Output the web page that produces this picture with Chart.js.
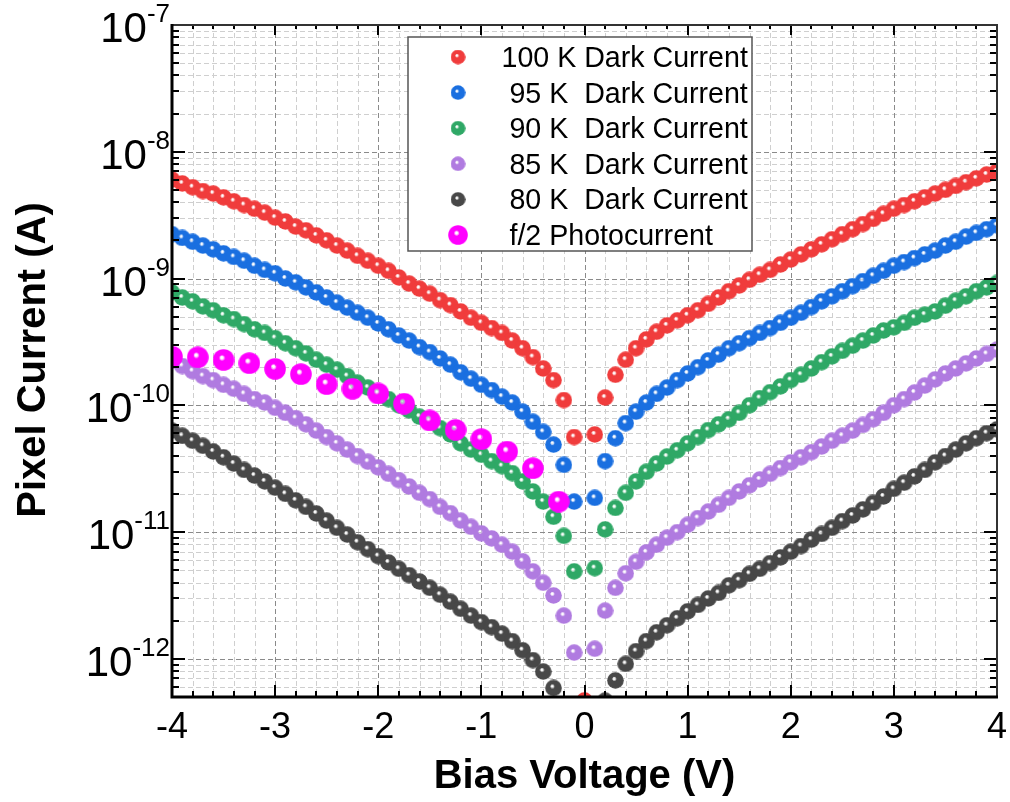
<!DOCTYPE html>
<html>
<head>
<meta charset="utf-8">
<script src="https://cdn.jsdelivr.net/npm/chart.js@4.4.1/dist/chart.umd.min.js"></script>
<style>
  html, body { margin: 0; background: #fff; }
  #grafico { display: block; }
</style>
</head>
<body>
<canvas id="grafico" width="1010" height="802"></canvas>
<script>
// bias voltage of the dark current sweeps (V)
const biasV = [-4.0, -3.9, -3.8, -3.7, -3.6, -3.5, -3.4, -3.3, -3.2, -3.1,
  -3.0, -2.9, -2.8, -2.7, -2.6, -2.5, -2.4, -2.3, -2.2, -2.1,
  -2.0, -1.9, -1.8, -1.7, -1.6, -1.5, -1.4, -1.3, -1.2, -1.1,
  -1.0, -0.9, -0.8, -0.7, -0.6, -0.5, -0.4, -0.3, -0.2, -0.1,
  0.0, 0.1, 0.2, 0.3, 0.4, 0.5, 0.6, 0.7, 0.8, 0.9,
  1.0, 1.1, 1.2, 1.3, 1.4, 1.5, 1.6, 1.7, 1.8, 1.9,
  2.0, 2.1, 2.2, 2.3, 2.4, 2.5, 2.6, 2.7, 2.8, 2.9,
  3.0, 3.1, 3.2, 3.3, 3.4, 3.5, 3.6, 3.7, 3.8, 3.9, 4.0];

// dark current (A)
const dark100K = [6.03e-9, 5.62e-9, 5.25e-9, 4.90e-9, 4.68e-9, 4.37e-9, 4.07e-9, 3.80e-9, 3.55e-9, 3.31e-9,
  3.02e-9, 2.82e-9, 2.57e-9, 2.40e-9, 2.19e-9, 2.00e-9, 1.82e-9, 1.66e-9, 1.51e-9, 1.38e-9,
  1.26e-9, 1.15e-9, 1.02e-9, 9.12e-10, 8.32e-10, 7.59e-10, 6.76e-10, 6.17e-10, 5.50e-10, 4.90e-10,
  4.47e-10, 4.07e-10, 3.72e-10, 3.24e-10, 2.82e-10, 2.40e-10, 1.95e-10, 1.58e-10, 1.10e-10, 5.62e-11,
  4.7e-13, 5.89e-11, 1.15e-10, 1.74e-10, 2.29e-10, 2.82e-10, 3.31e-10, 3.80e-10, 4.27e-10, 4.68e-10,
  5.13e-10, 5.62e-10, 6.31e-10, 7.08e-10, 7.94e-10, 8.81e-10, 9.77e-10, 1.07e-9, 1.17e-9, 1.29e-9,
  1.41e-9, 1.55e-9, 1.70e-9, 1.86e-9, 2.04e-9, 2.24e-9, 2.45e-9, 2.69e-9, 2.95e-9, 3.24e-9,
  3.55e-9, 3.80e-9, 4.07e-9, 4.37e-9, 4.68e-9, 5.01e-9, 5.37e-9, 5.75e-9, 6.17e-9, 6.61e-9, 7.00e-9];

const dark95K = [2.24e-9, 2.09e-9, 1.95e-9, 1.82e-9, 1.70e-9, 1.58e-9, 1.48e-9, 1.38e-9, 1.26e-9, 1.17e-9,
  1.10e-9, 1.00e-9, 9.33e-10, 8.51e-10, 7.76e-10, 7.08e-10, 6.46e-10, 5.89e-10, 5.37e-10, 4.90e-10,
  4.42e-10, 3.98e-10, 3.55e-10, 3.24e-10, 2.88e-10, 2.63e-10, 2.34e-10, 2.09e-10, 1.82e-10, 1.62e-10,
  1.45e-10, 1.32e-10, 1.17e-10, 1.05e-10, 8.91e-11, 7.41e-11, 6.17e-11, 4.90e-11, 3.39e-11, 1.74e-11,
  null, 1.86e-11, 3.63e-11, 5.50e-11, 7.24e-11, 8.91e-11, 1.05e-10, 1.23e-10, 1.38e-10, 1.58e-10,
  1.78e-10, 2.00e-10, 2.26e-10, 2.51e-10, 2.82e-10, 3.09e-10, 3.39e-10, 3.72e-10, 4.07e-10, 4.47e-10,
  4.90e-10, 5.37e-10, 5.96e-10, 6.61e-10, 7.24e-10, 7.94e-10, 8.71e-10, 9.55e-10, 1.05e-9, 1.15e-9,
  1.26e-9, 1.35e-9, 1.45e-9, 1.55e-9, 1.66e-9, 1.82e-9, 1.95e-9, 2.14e-9, 2.29e-9, 2.45e-9, 2.63e-9];

const dark90K = [7.76e-10, 7.08e-10, 6.61e-10, 6.03e-10, 5.62e-10, 5.13e-10, 4.79e-10, 4.37e-10, 3.98e-10, 3.72e-10,
  3.39e-10, 3.09e-10, 2.82e-10, 2.57e-10, 2.29e-10, 2.09e-10, 1.91e-10, 1.70e-10, 1.51e-10, 1.38e-10,
  1.23e-10, 1.12e-10, 1.00e-10, 9.12e-11, 8.13e-11, 7.41e-11, 6.61e-11, 5.89e-11, 5.01e-11, 4.47e-11,
  4.07e-11, 3.63e-11, 3.31e-11, 2.92e-11, 2.51e-11, 2.09e-11, 1.74e-11, 1.32e-11, 9.33e-12, 4.90e-12,
  null, 5.19e-12, 1.05e-11, 1.55e-11, 2.04e-11, 2.51e-11, 2.99e-11, 3.47e-11, 3.94e-11, 4.42e-11,
  5.01e-11, 5.62e-11, 6.38e-11, 7.08e-11, 7.76e-11, 8.71e-11, 1.00e-10, 1.14e-10, 1.27e-10, 1.41e-10,
  1.58e-10, 1.74e-10, 1.95e-10, 2.19e-10, 2.43e-10, 2.69e-10, 2.95e-10, 3.24e-10, 3.55e-10, 3.89e-10,
  4.12e-10, 4.47e-10, 4.90e-10, 5.19e-10, 5.50e-10, 6.10e-10, 6.68e-10, 7.24e-10, 7.94e-10, 8.51e-10, 9.23e-10];

const dark85K = [2.24e-10, 2.04e-10, 1.86e-10, 1.70e-10, 1.58e-10, 1.45e-10, 1.35e-10, 1.23e-10, 1.12e-10, 1.05e-10,
  9.55e-11, 8.71e-11, 7.94e-11, 7.08e-11, 6.31e-11, 5.62e-11, 5.01e-11, 4.47e-11, 3.98e-11, 3.59e-11,
  3.24e-11, 2.88e-11, 2.57e-11, 2.29e-11, 2.04e-11, 1.82e-11, 1.58e-11, 1.41e-11, 1.23e-11, 1.10e-11,
  9.77e-12, 8.91e-12, 7.94e-12, 7.00e-12, 5.89e-12, 4.90e-12, 3.98e-12, 3.16e-12, 2.19e-12, 1.12e-12,
  null, 1.20e-12, 2.40e-12, 3.63e-12, 4.73e-12, 5.82e-12, 6.92e-12, 7.94e-12, 9.02e-12, 1.00e-11,
  1.14e-11, 1.29e-11, 1.45e-11, 1.64e-11, 1.86e-11, 2.09e-11, 2.34e-11, 2.60e-11, 2.88e-11, 3.20e-11,
  3.55e-11, 3.89e-11, 4.27e-11, 4.73e-11, 5.25e-11, 5.75e-11, 6.31e-11, 7.00e-11, 7.76e-11, 8.71e-11,
  1.00e-10, 1.12e-10, 1.26e-10, 1.43e-10, 1.60e-10, 1.78e-10, 1.95e-10, 2.14e-10, 2.34e-10, 2.54e-10, 2.75e-10];

const dark80K = [6.31e-11, 5.75e-11, 5.25e-11, 4.79e-11, 4.32e-11, 3.89e-11, 3.47e-11, 3.09e-11, 2.79e-11, 2.51e-11,
  2.24e-11, 2.00e-11, 1.78e-11, 1.58e-11, 1.40e-11, 1.23e-11, 1.08e-11, 9.55e-12, 8.32e-12, 7.33e-12,
  6.46e-12, 5.75e-12, 5.13e-12, 4.57e-12, 4.07e-12, 3.63e-12, 3.20e-12, 2.82e-12, 2.48e-12, 2.19e-12,
  1.95e-12, 1.78e-12, 1.58e-12, 1.38e-12, 1.17e-12, 9.77e-13, 7.94e-13, 5.89e-13, null, null,
  null, null, 4.68e-13, 6.76e-13, 9.12e-13, 1.15e-12, 1.38e-12, 1.62e-12, 1.84e-12, 2.09e-12,
  2.37e-12, 2.66e-12, 2.99e-12, 3.31e-12, 3.80e-12, 4.17e-12, 4.68e-12, 5.13e-12, 5.69e-12, 6.31e-12,
  7.00e-12, 7.76e-12, 8.71e-12, 9.66e-12, 1.08e-11, 1.22e-11, 1.35e-11, 1.51e-11, 1.70e-11, 1.91e-11,
  2.19e-11, 2.45e-11, 2.75e-11, 3.09e-11, 3.55e-11, 3.98e-11, 4.47e-11, 5.01e-11, 5.50e-11, 6.03e-11, 6.46e-11];

// f/2 photocurrent (A)
const photoV = [-4.0, -3.75, -3.5, -3.25, -3.0, -2.75, -2.5, -2.25, -2.0, -1.75, -1.5, -1.25, -1.0, -0.75, -0.5, -0.25];
const photoF2 = [2.42e-10, 2.39e-10, 2.28e-10, 2.15e-10, 1.94e-10, 1.76e-10, 1.47e-10, 1.35e-10,
  1.24e-10, 1.03e-10, 7.59e-11, 6.40e-11, 5.41e-11, 4.32e-11, 3.19e-11, 1.74e-11];

const xTicks = [-4, -3, -2, -1, 0, 1, 2, 3, 4];
const yDecades = [-12, -11, -10, -9, -8, -7];

const Y_MIN = 5e-13, Y_MAX = 1e-7;

// shaded ball used as point marker
function esfera(color, d) {
  const c = document.createElement('canvas');
  c.width = d; c.height = d;
  const g = c.getContext('2d');
  const r = d / 2;
  const grad = g.createRadialGradient(r - r * 0.18, r - r * 0.24, 0, r, r, r);
  grad.addColorStop(0, 'rgba(255,255,255,0.9)');
  grad.addColorStop(0.1, 'rgba(255,255,255,0.55)');
  grad.addColorStop(0.28, color);
  grad.addColorStop(1, color);
  g.fillStyle = grad;
  g.beginPath();
  g.arc(r, r, r - 0.2, 0, Math.PI * 2);
  g.fill();
  return c;
}

function serie(etiqueta, xs, ys, color, d, orden) {
  return {
    label: etiqueta,
    data: xs.map((v, i) => ({ x: v, y: ys[i] })),
    pointStyle: esfera(color, d),
    pointRadius: d / 2,
    showLine: false,
    order: orden,
    clip: 0
  };
}

const datasets = [
  serie('100 K Dark Current', biasV, dark100K, '#f03c3c', 17, 1),
  serie(' 95 K  Dark Current', biasV, dark95K, '#1a6fe0', 17, 1),
  serie(' 90 K  Dark Current', biasV, dark90K, '#2fa866', 17, 1),
  serie(' 85 K  Dark Current', biasV, dark85K, '#b07be0', 17, 1),
  serie(' 80 K  Dark Current', biasV, dark80K, '#484848', 17, 1),
  serie(' f/2 Photocurrent', photoV, photoF2, '#ff00ff', 22, 0)
];

const marco = {
  id: 'marco',
  beforeDatasetsDraw(chart) {
    const { ctx, chartArea: a, scales: { x, y } } = chart;
    ctx.save();
    ctx.lineWidth = 1;
    ctx.setLineDash([5, 3]);
    // minor grid
    ctx.strokeStyle = '#cfcfcf';
    for (let i = -19; i <= 19; i++) {
      if (i % 5 === 0) continue;
      const px = Math.round(x.getPixelForValue(i / 5)) + 0.5;
      ctx.beginPath(); ctx.moveTo(px, a.top); ctx.lineTo(px, a.bottom); ctx.stroke();
    }
    for (let e = -13; e <= -8; e++) {
      for (let m = 2; m <= 9; m++) {
        const v = m * Math.pow(10, e);
        if (v <= Y_MIN || v >= Y_MAX) continue;
        const py = Math.round(y.getPixelForValue(v)) + 0.5;
        ctx.beginPath(); ctx.moveTo(a.left, py); ctx.lineTo(a.right, py); ctx.stroke();
      }
    }
    // major grid
    ctx.strokeStyle = '#8a8a8a';
    xTicks.forEach(t => {
      const px = Math.round(x.getPixelForValue(t)) + 0.5;
      ctx.beginPath(); ctx.moveTo(px, a.top); ctx.lineTo(px, a.bottom); ctx.stroke();
    });
    yDecades.forEach(e => {
      const py = Math.round(y.getPixelForValue(Math.pow(10, e))) + 0.5;
      ctx.beginPath(); ctx.moveTo(a.left, py); ctx.lineTo(a.right, py); ctx.stroke();
    });
    ctx.restore();
  },
  afterDatasetsDraw(chart) {
    const { ctx, chartArea: a, scales: { x, y } } = chart;
    ctx.save();
    ctx.setLineDash([]);
    ctx.strokeStyle = '#000';

    // ticks, pointing inwards on all four sides
    ctx.lineWidth = 2;
    for (let i = -20; i <= 20; i++) {
      const px = Math.round(x.getPixelForValue(i / 5));
      const largo = i % 5 === 0 ? 12 : 6;
      ctx.beginPath(); ctx.moveTo(px, a.bottom); ctx.lineTo(px, a.bottom - largo); ctx.stroke();
      ctx.beginPath(); ctx.moveTo(px, a.top); ctx.lineTo(px, a.top + largo - 2); ctx.stroke();
    }
    for (let e = -13; e <= -7; e++) {
      for (let m = 1; m <= 9; m++) {
        const v = m * Math.pow(10, e);
        if (v < Y_MIN || v > Y_MAX) continue;
        const py = Math.round(y.getPixelForValue(v));
        const largo = m === 1 ? 13 : 7;
        ctx.beginPath(); ctx.moveTo(a.left, py); ctx.lineTo(a.left + largo, py); ctx.stroke();
        ctx.beginPath(); ctx.moveTo(a.right, py); ctx.lineTo(a.right - largo, py); ctx.stroke();
      }
    }

    // frame
    ctx.lineWidth = 2;
    ctx.strokeStyle = '#333';
    ctx.beginPath(); ctx.moveTo(a.left, a.top); ctx.lineTo(a.right, a.top); ctx.lineTo(a.right, a.bottom); ctx.stroke();
    ctx.lineWidth = 3;
    ctx.strokeStyle = '#000';
    ctx.beginPath(); ctx.moveTo(a.left, a.top - 1); ctx.lineTo(a.left, a.bottom); ctx.lineTo(a.right + 1, a.bottom); ctx.stroke();

    // tick labels
    ctx.fillStyle = '#000';
    ctx.font = '36px "Liberation Sans", Arial, sans-serif';
    ctx.textAlign = 'center';
    ctx.textBaseline = 'alphabetic';
    xTicks.forEach(t => {
      ctx.fillText(String(t), x.getPixelForValue(t), a.bottom + 41);
    });
    ctx.textAlign = 'left';
    yDecades.forEach(e => {
      const py = y.getPixelForValue(Math.pow(10, e));
      const sup = String(e);
      ctx.font = '26px "Liberation Sans", Arial, sans-serif';
      const wSup = ctx.measureText(sup).width;
      ctx.font = '42px "Liberation Sans", Arial, sans-serif';
      const wBase = ctx.measureText('10').width;
      const right = a.left - 2;
      ctx.fillText('10', right - wSup - wBase, py + 17);
      ctx.font = '26px "Liberation Sans", Arial, sans-serif';
      ctx.fillText(sup, right - wSup, py - 3);
    });

    // axis titles
    ctx.font = 'bold 40px "Liberation Sans", Arial, sans-serif';
    ctx.textAlign = 'center';
    ctx.fillText('Bias Voltage (V)', (a.left + a.right) / 2, 788);
    ctx.save();
    ctx.translate(45, 360);
    ctx.rotate(-Math.PI / 2);
    ctx.fillText('Pixel Current (A)', 0, 0);
    ctx.restore();

    // legend
    const lx = 408, ly = 37, lw = 344, lh = 214;
    ctx.fillStyle = '#fff';
    ctx.fillRect(lx, ly, lw, lh);
    ctx.lineWidth = 1.5;
    ctx.strokeStyle = '#555';
    ctx.strokeRect(lx, ly, lw, lh);
    ctx.font = '28.6px "Liberation Sans", Arial, sans-serif';
    ctx.textAlign = 'left';
    ctx.fillStyle = '#000';
    chart.data.datasets.forEach((ds, i) => {
      const cy = 57 + i * 35.6;
      const img = ds.pointStyle;
      const d = img.width < 20 ? 15 : 20;
      ctx.drawImage(img, 458 - d / 2, cy - d / 2, d, d);
      ctx.fillText(ds.label, 501.5, cy + 10);
    });
    ctx.restore();
  }
};

new Chart(document.getElementById('grafico'), {
  type: 'scatter',
  data: { datasets: datasets },
  options: {
    responsive: false,
    animation: false,
    layout: { padding: { left: 172, right: 13, top: 25, bottom: 105 } },
    plugins: { legend: { display: false }, tooltip: { enabled: false } },
    scales: {
      x: { type: 'linear', min: -4, max: 4, display: false },
      y: { type: 'logarithmic', min: Y_MIN, max: Y_MAX, display: false }
    }
  },
  plugins: [marco]
});
</script>
</body>
</html>
